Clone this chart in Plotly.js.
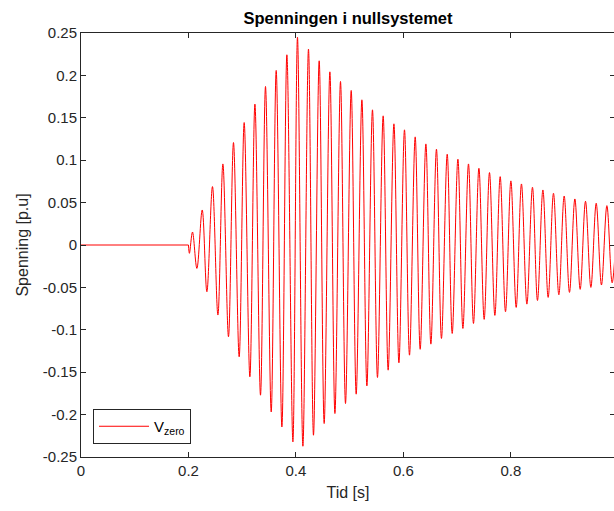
<!DOCTYPE html>
<html>
<head>
<meta charset="utf-8">
<script src="https://cdn.plot.ly/plotly-3.0.1.min.js"></script>
<style>
html,body{margin:0;padding:0;overflow:hidden;background:#fff;width:614px;height:511px;}
#chart{width:616px;height:511px;}
</style>
</head>
<body>
<div id="chart"></div>
<script>
// Pre-fault (flat) part
const preT = [0, 0.2];
const preV = [0, 0];
// Positive peaks
const peakT = [0.2075,0.2256,0.2447,0.2641,0.2838,0.3037,0.3237,0.3434,0.3633,0.3832,0.4029,0.4234,0.4433,0.4632,0.4830,0.5029,0.5228,0.5425,0.5624,0.5824,0.6021,0.6220,0.6419,0.6616,0.6816,0.7015,0.7212,0.7406,0.7603,0.7802,0.8001,0.8198,0.8403,0.8597,0.8794,0.8993,0.9192,0.9390,0.9589,0.9788,0.9985];
const peakV = [0.0153,0.0413,0.0689,0.0956,0.1208,0.1444,0.1661,0.1869,0.2058,0.2243,0.2450,0.2310,0.2172,0.2042,0.1928,0.1822,0.1712,0.1594,0.1523,0.1429,0.1358,0.1275,0.1192,0.1130,0.1071,0.1012,0.0956,0.0905,0.0854,0.0806,0.0756,0.0720,0.0681,0.0649,0.0610,0.0578,0.0543,0.0516,0.0492,0.0464,0.0440];
// Troughs
const troughT = [0.2018,0.2157,0.2343,0.2548,0.2745,0.2944,0.3143,0.3341,0.3540,0.3739,0.3944,0.4130,0.4327,0.4526,0.4726,0.4923,0.5122,0.5321,0.5518,0.5717,0.5917,0.6114,0.6313,0.6512,0.6709,0.6909,0.7108,0.7305,0.7504,0.7703,0.7901,0.8100,0.8299,0.8496,0.8695,0.8894,0.9092,0.9291,0.9490,0.9687,0.9886];
const troughV = [-0.0098,-0.0276,-0.0551,-0.0826,-0.1082,-0.1318,-0.1554,-0.1771,-0.1968,-0.2145,-0.2322,-0.2373,-0.2243,-0.2105,-0.1987,-0.1869,-0.1759,-0.1661,-0.1562,-0.1476,-0.1389,-0.1299,-0.1230,-0.1169,-0.1102,-0.1043,-0.0984,-0.0925,-0.0877,-0.0830,-0.0787,-0.0736,-0.0697,-0.0655,-0.0618,-0.0587,-0.0559,-0.0523,-0.0500,-0.0472,-0.0445];

const xTickVals = [0, 0.2, 0.4, 0.6, 0.8, 1];
const xTickText = ['0', '0.2', '0.4', '0.6', '0.8', '1'];
const yTickVals = [0.25, 0.2, 0.15, 0.1, 0.05, 0, -0.05, -0.1, -0.15, -0.2, -0.25];
const yTickText = ['0.25', '0.2', '0.15', '0.1', '0.05', '0', '-0.05', '-0.1', '-0.15', '-0.2', '-0.25'];

// oscillation part: fault start point + extrema, in time order
const pts = [[preT[preT.length - 1], preV[preV.length - 1]]];
peakT.forEach((t, i) => pts.push([t, peakV[i]]));
troughT.forEach((t, i) => pts.push([t, troughV[i]]));
pts.sort((a, b) => a[0] - b[0]);
const T = pts.map(p => p[0]);
const V = pts.map(p => p[1]);

const FONT = 'Liberation Sans, Arial, Helvetica, sans-serif';
const AX = '#262626';
const RED = '#ff0000';

const flat = {
  x: preT, y: preV, type: 'scatter', mode: 'lines',
  line: {color: RED, width: 1}, showlegend: false, hoverinfo: 'skip'
};
const osc = {
  x: T, y: V, type: 'scatter', mode: 'lines',
  name: 'V<sub>zero</sub>',
  line: {color: RED, width: 1, shape: 'spline', smoothing: 1},
  hoverinfo: 'skip'
};

const layout = {
  width: 616, height: 511,
  margin: {l: 81, r: 1, t: 33, b: 54, pad: 0},
  paper_bgcolor: '#ffffff', plot_bgcolor: '#ffffff',
  font: {family: FONT, color: AX, size: 15},
  title: {text: '<b>Spenningen i nullsystemet</b>', font: {family: FONT, size: 16.5, color: '#000'},
          x: 0.5, xref: 'paper', y: 1 - 18/511, yref: 'container', yanchor: 'middle'},
  xaxis: {
    range: [0, 0.9939], showgrid: false, zeroline: false,
    showline: true, linecolor: AX, linewidth: 1, mirror: 'ticks',
    ticks: 'inside', ticklen: 5, tickcolor: AX, tickwidth: 1,
    tickvals: xTickVals, ticktext: xTickText,
    tickfont: {family: FONT, size: 15, color: AX},
    title: {text: 'Tid [s]', font: {family: FONT, size: 16, color: AX}, standoff: 8}
  },
  yaxis: {
    range: [-0.25, 0.25], showgrid: false, zeroline: false,
    showline: true, linecolor: AX, linewidth: 1, mirror: 'ticks',
    ticks: 'inside', ticklen: 5, tickcolor: AX, tickwidth: 1,
    tickvals: yTickVals, ticktext: yTickText,
    tickfont: {family: FONT, size: 15, color: AX},
    title: {text: 'Spenning [p.u]', font: {family: FONT, size: 16, color: AX}, standoff: 10}
  },
  showlegend: true,
  legend: {
    x: 12/533, y: 13/424, xanchor: 'left', yanchor: 'bottom',
    bgcolor: '#ffffff', bordercolor: AX, borderwidth: 1,
    font: {family: FONT, size: 15, color: '#000'},
    itemwidth: 50
  }
};

Plotly.newPlot('chart', [flat, osc], layout, {displayModeBar: false, staticPlot: true});
</script>
</body>
</html>
